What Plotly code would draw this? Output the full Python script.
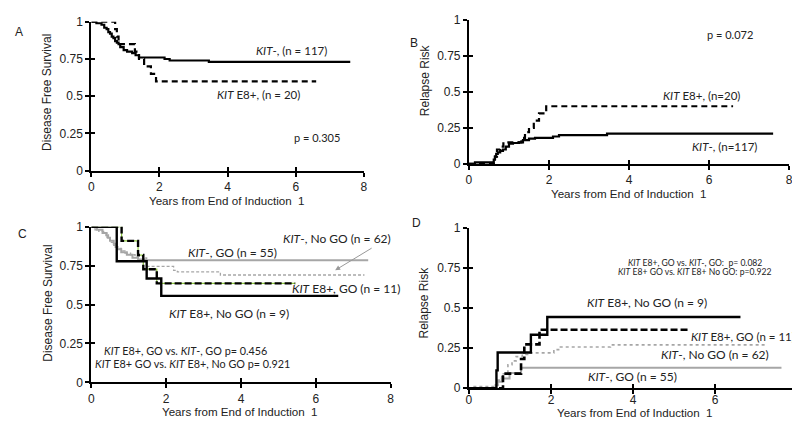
import plotly.graph_objects as go

# ---------- data (step curves: time in years, value after event) ----------
# Panel A: Disease free survival
a_kitneg_t = [0, 0.15, 0.3, 0.38, 0.45, 0.5, 0.55, 0.6, 0.65, 0.7, 0.75, 0.8, 0.85, 0.95, 1.05, 1.2, 1.3, 1.4, 2.15, 2.3, 3.45, 7.6]
a_kitneg_v = [1, 0.99, 0.98, 0.96, 0.95, 0.93, 0.92, 0.90, 0.89, 0.87, 0.86, 0.85, 0.83, 0.81, 0.80, 0.79, 0.775, 0.76, 0.75, 0.74, 0.73, 0.73]
a_kite8_t = [0, 0.7, 0.75, 0.8, 1.28, 1.4, 1.55, 1.75, 1.9, 6.6]
a_kite8_v = [1, 0.95, 0.90, 0.85, 0.80, 0.75, 0.70, 0.65, 0.60, 0.60]

# Panel B: Relapse risk
b_kitneg_t = [0, 0.15, 0.62, 0.65, 0.68, 0.72, 0.78, 0.85, 0.92, 1.0, 1.1, 1.25, 1.35, 1.5, 1.65, 2.1, 2.25, 3.45, 7.6]
b_kitneg_v = [0, 0.01, 0.03, 0.05, 0.07, 0.08, 0.09, 0.10, 0.12, 0.14, 0.145, 0.15, 0.165, 0.175, 0.18, 0.19, 0.20, 0.21, 0.21]
b_kite8_t = [0, 0.65, 0.7, 0.78, 0.86, 1.31, 1.4, 1.5, 1.62, 1.75, 1.93, 6.6]
b_kite8_v = [0, 0.05, 0.10, 0.12, 0.15, 0.18, 0.22, 0.25, 0.30, 0.35, 0.40, 0.40]

# Panel C: Disease free survival by GO
c_e8nogo_t = [0, 0.68, 1.48, 1.87, 6.6]
c_e8nogo_v = [1, 0.778, 0.667, 0.556, 0.556]
c_e8go_t = [0, 0.81, 1.25, 1.39, 1.75, 5.45]
c_e8go_v = [1, 0.909, 0.818, 0.727, 0.636, 0.636]
c_neggo_t = [0, 0.15, 0.3, 0.4, 0.45, 0.5, 0.6, 0.65, 0.7, 0.8, 0.95, 1.1, 1.25, 1.45, 7.4]
c_neggo_v = [1, 0.98, 0.96, 0.945, 0.93, 0.91, 0.89, 0.87, 0.855, 0.836, 0.82, 0.80, 0.79, 0.785, 0.785]
c_negnogo_t = [0, 0.1, 0.2, 0.33, 0.42, 0.5, 0.6, 0.68, 0.8, 0.9, 1.05, 1.17, 1.39, 1.48, 2.2, 2.3, 3.45, 7.3]
c_negnogo_v = [1, 0.98, 0.97, 0.96, 0.93, 0.90, 0.88, 0.86, 0.845, 0.83, 0.82, 0.81, 0.80, 0.745, 0.72, 0.71, 0.69, 0.69]

# Panel D: Relapse risk by GO
d_e8nogo_t = [0, 0.67, 0.7, 1.51, 1.91, 6.62]
d_e8nogo_v = [0, 0.111, 0.222, 0.333, 0.444, 0.444]
d_e8go_t = [0, 0.83, 1.27, 1.35, 1.72, 5.39]
d_e8go_v = [0, 0.091, 0.182, 0.273, 0.364, 0.364]
d_neggo_t = [0, 0.65, 0.7, 0.8, 0.99, 1.27, 7.62]
d_neggo_v = [0, 0.02, 0.04, 0.06, 0.095, 0.127, 0.127]
d_negnogo_t = [0, 0.1, 0.6, 0.7, 0.8, 0.95, 1.05, 1.15, 1.3, 1.43, 2.07, 2.23, 3.45, 7.27]
d_negnogo_v = [0, 0.01, 0.02, 0.05, 0.09, 0.146, 0.17, 0.197, 0.21, 0.22, 0.24, 0.257, 0.27, 0.27]

x_ticks = [0, 2, 4, 6, 8]
y_ticks = [0, 0.25, 0.5, 0.75, 1]
y_ticklabels = ["0", "0.25", "0.5", "0.75", "1"]
x_title = "Years from End of Induction  1"

W, H = 800, 422
AX_FONT = "Liberation Sans, Arial, sans-serif"
ANN_FONT = "Lato, Carlito, sans-serif"
TXT = "#222222"

fig = go.Figure()

def px_dom_x(a, b):
    return [a / W, b / W]

def px_dom_y(top, bottom):
    return [(H - bottom) / H, (H - top) / H]

BLACK = "#000000"
GRAY = "#a6a6a6"
GREEN = "#8cc63f"

def add_line(t, v, ax, color, width, dash="solid"):
    fig.add_trace(go.Scatter(x=t, y=v, mode="lines", line=dict(color=color, width=width, dash=dash, shape="hv"),
                             xaxis="x" + ax, yaxis="y" + ax, showlegend=False, hoverinfo="skip",
                             cliponaxis=False))

# A
add_line(a_kitneg_t, a_kitneg_v, "", BLACK, 2.2)
add_line(a_kite8_t, a_kite8_v, "", BLACK, 2.2, "6px,4px")
# B
add_line(b_kitneg_t, b_kitneg_v, "2", BLACK, 2.2)
add_line(b_kite8_t, b_kite8_v, "2", BLACK, 2.2, "6px,4px")
# C
add_line(c_neggo_t, c_neggo_v, "3", GRAY, 2)
add_line(c_negnogo_t, c_negnogo_v, "3", GRAY, 1.3, "3px,2px")
add_line(c_e8go_t, c_e8go_v, "3", GREEN, 1.2)
add_line(c_e8go_t, c_e8go_v, "3", BLACK, 2.4, "7px,3px")
add_line(c_e8nogo_t, c_e8nogo_v, "3", BLACK, 2.4)
# D
add_line(d_neggo_t, d_neggo_v, "4", GRAY, 2)
add_line(d_negnogo_t, d_negnogo_v, "4", GRAY, 1.6, "dot")
add_line(d_e8go_t, d_e8go_v, "4", BLACK, 2.6, "7px,3px")
add_line(d_e8nogo_t, d_e8nogo_v, "4", BLACK, 2.4)

# panel: x-domain px, y-domain px, y title, (x title centre), (y title centre), x tick label standoff
panels = {
    "": (px_dom_x(81, 356), px_dom_y(7, 161), "Disease Free Survival", (218, 192), (37, 80), 0),
    "2": (px_dom_x(462, 785), px_dom_y(5, 154), "Relapse Risk", (623, 185), (417, 67), 0),
    "3": (px_dom_x(81, 383), px_dom_y(219, 380), "Disease Free Survival", (231, 410), (37, 298), 0),
    "4": (px_dom_x(462, 793), px_dom_y(220, 386), "Relapse Risk", (630, 411), (417, 297), -5),
}

overlay_idx = 5
for key, (dx, dy, ytitle, xt, yt, xstand) in panels.items():
    common = dict(showline=True, linecolor=BLACK, linewidth=2, ticks="outside", ticklen=4, tickwidth=2,
                  tickcolor=BLACK, showgrid=False, zeroline=False,
                  tickfont=dict(family=AX_FONT, size=12, color=TXT))
    fig.layout["xaxis" + key] = dict(domain=dx, range=[0, 8], tickvals=x_ticks, anchor="y" + key,
                                     ticklabelstandoff=xstand, **common)
    fig.layout["yaxis" + key] = dict(domain=dy, range=[0, 1], tickvals=y_ticks, ticktext=y_ticklabels,
                                     anchor="x" + key, **common)
    # inside ticks on overlaying axes so the tick marks cross the axis lines
    k = str(overlay_idx)
    inner = dict(showline=False, ticks="inside", ticklen=4, tickwidth=2, tickcolor=BLACK,
                 showgrid=False, zeroline=False, showticklabels=False)
    fig.layout["xaxis" + k] = dict(domain=dx, range=[0, 8], tickvals=x_ticks, anchor="y" + k,
                                   overlaying="x" + key, **inner)
    fig.layout["yaxis" + k] = dict(domain=dy, range=[0, 1], tickvals=y_ticks, anchor="x" + k,
                                   overlaying="y" + key, **inner)
    fig.add_trace(go.Scatter(x=[None], y=[None], xaxis="x" + k, yaxis="y" + k, showlegend=False,
                             hoverinfo="skip", mode="lines"))
    overlay_idx += 1
    # axis titles as annotations for exact placement
    fig.add_annotation(x=xt[0] / W, y=(H - xt[1]) / H, xref="paper", yref="paper", text=x_title,
                       showarrow=False, xanchor="center", yanchor="middle",
                       font=dict(family=AX_FONT, size=11.6, color=TXT))
    fig.add_annotation(x=yt[0] / W, y=(H - yt[1]) / H, xref="paper", yref="paper", text=ytitle,
                       showarrow=False, xanchor="center", yanchor="middle", textangle=-90,
                       font=dict(family=AX_FONT, size=12, color=TXT))

def ann(x, y, text, size=11.5, xanchor="center", color=TXT, family=ANN_FONT):
    fig.add_annotation(x=x / W, y=(H - y) / H, xref="paper", yref="paper", text=text, showarrow=False,
                       xanchor=xanchor, yanchor="middle", font=dict(family=family, size=size, color=color))

# panel letters
ann(8, 18, "A", 12, family=AX_FONT)
ann(407, 29, "B", 12, family=AX_FONT)
ann(12, 226, "C", 12, family=AX_FONT)
ann(409, 215, "D", 12, family=AX_FONT)

# A
ann(283, 37, "<i>KIT</i>-, (n = 117)", 11.5)
ann(250, 82, "<i>KIT</i> E8+, (n = 20)", 11.5)
ann(309, 127, "p = 0.305", 11)
# B
ann(725, 20, "p = 0.072", 11)
ann(697, 83, "<i>KIT</i> E8+, (n=20)", 11.5)
ann(720, 136, "<i>KIT</i>-, (n=117)", 11.5)
# C
ann(329, 231, "<i>KIT</i>-, No GO (n = 62)", 12)
ann(223, 246, "<i>KIT</i>-, GO (n = 55)", 12)
ann(338, 283, "<i>KIT</i> E8+, GO (n = 11)", 12)
ann(220, 309, "<i>KIT</i> E8+, No GO (n = 9)", 12)
ann(176, 347, "<i>KIT</i> E8+, GO vs. <i>KIT</i>-, GO p= 0.456", 10.8)
ann(183, 360, "<i>KIT</i> E8+ GO vs. <i>KIT</i> E8+, No GO p= 0.921", 10.8)
fig.add_annotation(x=327 / W, y=(H - 264) / H, ax=38, ay=-23, xref="paper", yref="paper",
                   text="", showarrow=True, arrowhead=2, arrowsize=1,
                   arrowwidth=1, arrowcolor="#999999")
# D
ann(690, 257, "<i>KIT</i> E8+, GO vs. <i>KIT</i>-, GO:  p= 0.082", 8.6)
ann(690, 266, "<i>KIT</i> E8+ GO vs. <i>KIT</i> E8+ No GO: p=0.922", 8.6)
ann(642, 297, "<i>KIT</i> E8+, No GO (n = 9)", 12)
ann(738, 333, "<i>KIT</i> E8+, GO (n = 11)", 11.5)
ann(710, 351, "<i>KIT</i>-, No GO (n = 62)", 12)
ann(627, 374, "<i>KIT</i>-, GO (n = 55)", 12)

fig.update_layout(width=W, height=H, margin=dict(l=0, r=0, t=0, b=0), plot_bgcolor="white",
                  paper_bgcolor="white", showlegend=False)

fig.write_html("out.html")
